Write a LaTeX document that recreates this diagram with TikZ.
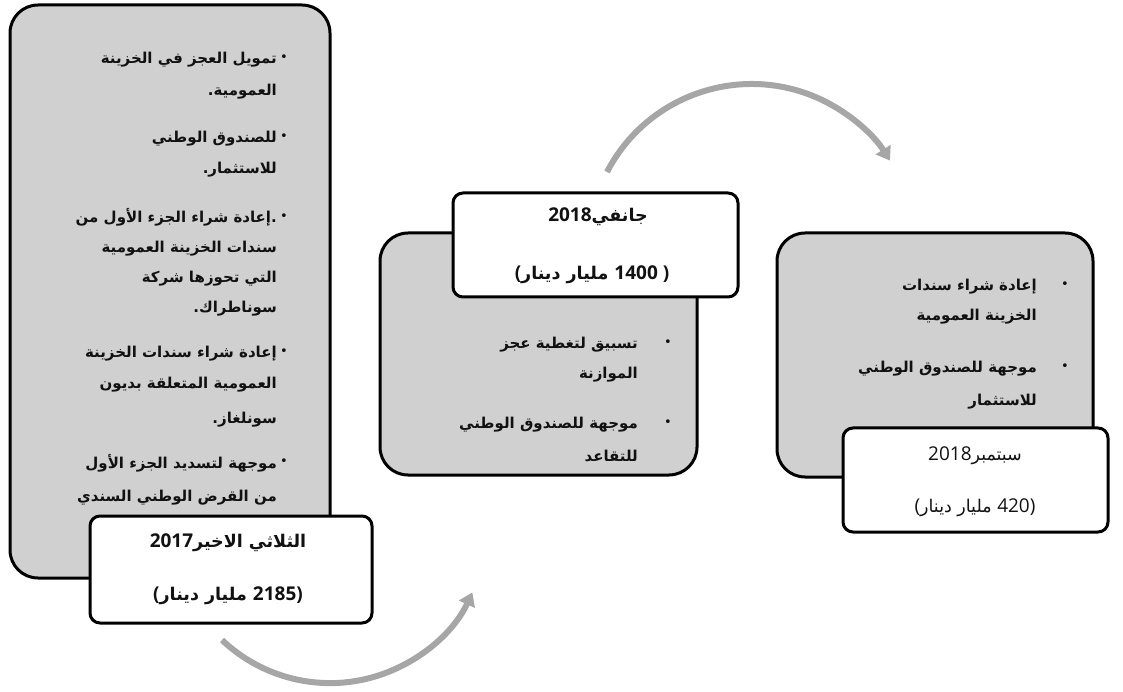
\documentclass[tikz,border=0pt]{standalone}
\usepackage{fontspec}
\usetikzlibrary{arrows.meta}
\TeXXeTstate=1
\newfontfamily\arfont[Script=Arabic]{DejaVu Sans}
\newfontfamily\latfont{Open Sans}
\newcommand\myRL[1]{\beginR #1\endR}
\definecolor{boxgray}{HTML}{D0D0D0}
\definecolor{arrgray}{HTML}{A6A6A6}
\definecolor{ink}{HTML}{111111}
\tikzset{
  graybox/.style={draw=black, line width=3pt, fill=boxgray, rounded corners=28pt},
  labelbox/.style={draw=black, line width=3pt, fill=white, rounded corners=10pt},
  txt/.style={anchor=base east, inner sep=0pt, text=ink, font=\arfont\bfseries\fontsize{15}{18}\selectfont},
  bul/.style={anchor=center, inner sep=0pt, text=ink, font=\arfont\fontsize{13}{14}\selectfont},
  lab/.style={anchor=base, inner sep=0pt, text=ink, font=\arfont\bfseries\fontsize{17.5}{20}\selectfont},
  labr/.style={anchor=base, inner sep=0pt, text=ink, font=\arfont\fontsize{17.5}{20}\selectfont},
  arr/.style={draw=arrgray, line width=6pt, -{Triangle[length=13pt,width=17pt]}},
}
\newcommand\numb[1]{{\latfont\bfseries\fontsize{19}{20}\selectfont #1}}
\newcommand\numr[1]{{\latfont\fontsize{19}{20}\selectfont #1}}
\begin{document}
\begin{tikzpicture}[x=1pt,y=1pt]
\useasboundingbox (0,0) rectangle (1123,691);
% ---------- gray boxes
\draw[graybox] (10,113) rectangle (330,686);
\draw[graybox] (380,216) rectangle (697,458);
\draw[graybox] (777,214) rectangle (1093,458);
% ---------- left box text
\node[bul] (lb1) at (284,633) {•};
\node[txt] (lt1) at (277,627) {\myRL{تمويل العجز في الخزينة}};
\node[txt] (lt2) at (277,595) {\myRL{العمومية.}};
\node[bul] (lb2) at (284,554) {•};
\node[txt] (lt3) at (277,548) {\myRL{للصندوق الوطني}};
\node[txt] (lt4) at (277,517) {\myRL{للاستثمار.}};
\node[bul] (lb3) at (284,474) {•};
\node[txt] (lt5) at (277,468) {\myRL{.\kern0pt إعادة شراء الجزء الأول من}};
\node[txt] (lt6) at (277,438) {\myRL{سندات الخزينة العمومية}};
\node[txt] (lt7) at (277,408) {\myRL{التي تحوزها شركة}};
\node[txt] (lt8) at (277,378) {\myRL{سوناطراك.}};
\node[bul] (lb4) at (284,339) {•};
\node[txt] (lt9) at (277,333) {\myRL{إعادة شراء سندات الخزينة}};
\node[txt] (lt10) at (277,302) {\myRL{العمومية المتعلقة بديون}};
\node[txt] (lt11) at (277,268) {\myRL{سونلغاز.}};
\node[bul] (lb5) at (284,229) {•};
\node[txt] (lt12) at (277,223) {\myRL{موجهة لتسديد الجزء الأول}};
\node[txt] (lt13) at (277,190) {\myRL{من القرض الوطني السندي}};
% ---------- middle box text
\node[bul] (mb1) at (668,348) {•};
\node[txt] (mt1) at (638,342) {\myRL{تسبيق لتغطية عجز}};
\node[txt] (mt2) at (638,312) {\myRL{الموازنة}};
\node[bul] (mb2) at (668,268) {•};
\node[txt] (mt3) at (638,262) {\myRL{موجهة للصندوق الوطني}};
\node[txt] (mt4) at (638,230) {\myRL{للتقاعد}};
% ---------- right box text
\node[bul] (rb1) at (1065,406) {•};
\node[txt] (rt1) at (1037,400) {\myRL{إعادة شراء سندات}};
\node[txt] (rt2) at (1037,370) {\myRL{الخزينة العمومية}};
\node[bul] (rb2) at (1065,324) {•};
\node[txt] (rt3) at (1037,318) {\myRL{موجهة للصندوق الوطني}};
\node[txt] (rt4) at (1037,285) {\myRL{للاستثمار}};
% ---------- label boxes
\draw[labelbox] (90,68) rectangle (372,175);
\node[lab] (ll1) at (228,144) {\numb{2017}\myRL{الثلاثي الاخير}};
\node[lab] (ll2) at (228,91) {\numb{(}\myRL{مليار دينار} \numb{2185)}};
\draw[labelbox] (453,394) rectangle (738,498);
\node[lab] (ml1) at (598,469) {\numb{2018}\myRL{جانفي}};
\node[lab] (ml2) at (592,411) {\numb{(}\myRL{مليار دينار} \numb{1400 )}};
\draw[labelbox] (843,159) rectangle (1108,263);
\node[labr] (rl1) at (975,231) {\numr{2018}\myRL{سبتمبر}};
\node[labr] (rl2) at (975,179) {\numr{(}\myRL{مليار دينار} \numr{420)}};
% ---------- arrows
\coordinate (topS) at (607,519);
\coordinate (botS) at (222,51);
\draw[arr] (topS) arc[start angle=152.6, end angle=32, radius=163];
\draw[arr] (botS) arc[start angle=226.5, end angle=335, radius=157];
\end{tikzpicture}
\end{document}
